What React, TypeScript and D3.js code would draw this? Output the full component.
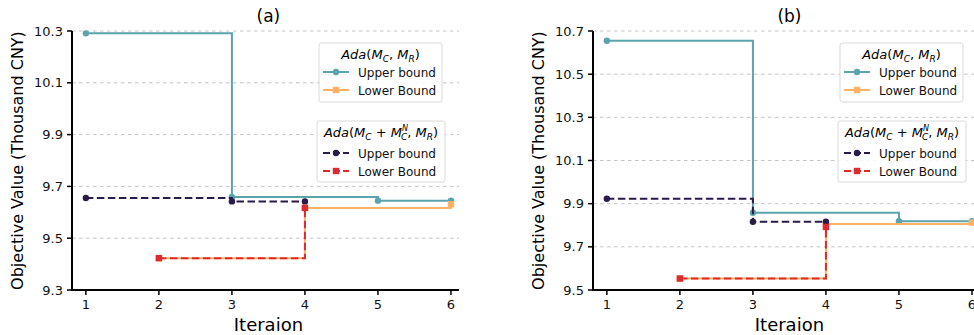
import React from 'react';
import * as d3 from 'd3';

// iterations where each bound was recorded
const iterUpperA = [1, 3, 5, 6];
const iterLowerA = [2, 4, 6];
const iterUpperNA = [1, 3, 4];
const iterLowerNA = [2, 4];

// panel (a) values, thousand CNY
const upperA = [10.291, 9.659, 9.645, 9.645];
const lowerA = [9.423, 9.617, 9.631];
const upperNA = [9.655, 9.642, 9.642];
const lowerNA = [9.423, 9.617];

// panel (b) values
const upperB = [10.655, 9.858, 9.819, 9.819];
const lowerB = [9.553, 9.806, 9.812];
const upperNB = [9.923, 9.816, 9.816];
const lowerNB = [9.553, 9.792];

const xTicks = [1, 2, 3, 4, 5, 6];
const yTicksA = [9.3, 9.5, 9.7, 9.9, 10.1, 10.3];
const yTicksB = [9.5, 9.7, 9.9, 10.1, 10.3, 10.5, 10.7];

const TEAL = '#5ba3ad';
const ORANGE = '#ffb266';
const NAVY = '#2a1b4b';
const RED = '#dc2a2e';
const FONT = 'DejaVu Sans, sans-serif';

type Series = { xs: number[]; ys: number[]; color: string; dashed: boolean; marker: 'circle' | 'square' };

function Marker({ x, y, kind, color }: { x: number; y: number; kind: string; color: string }) {
  if (kind === 'circle') return <circle cx={x} cy={y} r={3.2} fill={color} />;
  return <rect x={x - 3.2} y={y - 3.2} width={6.4} height={6.4} fill={color} />;
}

function LegendTitle({ x, y, withN }: { x: number; y: number; withN: boolean }) {
  return (
    <text x={x} y={y} textAnchor="middle" fontSize={13} fontFamily={FONT}>
      <tspan fontStyle="italic">Ada</tspan>
      <tspan>(</tspan>
      <tspan fontStyle="italic">M</tspan>
      <tspan fontStyle="italic" fontSize={9} dy={3}>C</tspan>
      {withN ? (
        <>
          <tspan dy={-3}> + </tspan>
          <tspan fontStyle="italic">M</tspan>
          <tspan fontStyle="italic" fontSize={8} dy={-6}>N</tspan>
          <tspan fontStyle="italic" fontSize={9} dx={-7} dy={9}>C</tspan>
        </>
      ) : null}
      <tspan dy={withN ? -3 : -3}>, </tspan>
      <tspan fontStyle="italic">M</tspan>
      <tspan fontStyle="italic" fontSize={9} dy={3}>R</tspan>
      <tspan dy={-3}>)</tspan>
    </text>
  );
}

function LegendBox({ x, y, w, h, withN, items }: {
  x: number; y: number; w: number; h: number; withN: boolean;
  items: { label: string; s: Series }[];
}) {
  return (
    <g>
      <rect x={x} y={y} width={w} height={h} rx={2.5} fill="white" fillOpacity={0.85} stroke="#d9d9d9" strokeWidth={1} />
      <LegendTitle x={x + w / 2} y={y + 16} withN={withN} />
      {items.map((it, i) => {
        const cy = y + (withN ? 32 : 29) + i * 18;
        const hx = x + (withN ? 6 : 4);
        return (
          <g key={i}>
            <line x1={hx} x2={hx + 26} y1={cy} y2={cy} stroke={it.s.color} strokeWidth={2}
              strokeDasharray={it.s.dashed ? '7,3' : undefined} />
            <Marker x={hx + 13} y={cy} kind={it.s.marker} color={it.s.color} />
            <text x={hx + 35} y={cy + 4.5} fontSize={12} fontFamily={FONT} fill="#111">{it.label}</text>
          </g>
        );
      })}
    </g>
  );
}

function Panel({ left, title, yDomain, yTicks, series }: {
  left: number; title: string; yDomain: [number, number]; yTicks: number[]; series: Series[];
}) {
  const top = 31;
  const bottom = 290;
  const width = 387;
  const x = d3.scaleLinear().domain([0.81, 6.11]).range([left, left + width]);
  const y = d3.scaleLinear().domain(yDomain).range([bottom, top]);
  const line = d3.line<[number, number]>()
    .x((d) => x(d[0]))
    .y((d) => y(d[1]))
    .curve(d3.curveStepAfter);

  return (
    <g>
      {yTicks.map((t) => (
        <line key={'g' + t} x1={left} x2={left + width} y1={y(t)} y2={y(t)}
          stroke="#c4c4c4" strokeWidth={1} strokeDasharray="3.5,3.5" />
      ))}
      {series.map((s, i) => (
        <g key={i}>
          <path d={line(s.xs.map((v, j) => [v, s.ys[j]] as [number, number])) || ''}
            fill="none" stroke={s.color} strokeWidth={2}
            strokeDasharray={s.dashed ? '7.5,3.5' : undefined} />
          {s.xs.map((v, j) => (
            <Marker key={j} x={x(v)} y={y(s.ys[j])} kind={s.marker} color={s.color} />
          ))}
        </g>
      ))}
      <line x1={left} x2={left} y1={top} y2={bottom} stroke="black" strokeWidth={2} />
      <line x1={left - 1} x2={left + width} y1={bottom} y2={bottom} stroke="black" strokeWidth={2} />
      {yTicks.map((t) => (
        <g key={'y' + t}>
          <line x1={left - 5} x2={left} y1={y(t)} y2={y(t)} stroke="black" strokeWidth={1.5} />
          <text x={left - 9} y={y(t) + 4.5} textAnchor="end" fontSize={13} fontFamily={FONT} fill="#111">
            {t.toFixed(1)}
          </text>
        </g>
      ))}
      {xTicks.map((t) => (
        <g key={'x' + t}>
          <line x1={x(t)} x2={x(t)} y1={bottom} y2={bottom + 5} stroke="black" strokeWidth={1.5} />
          <text x={x(t)} y={bottom + 19} textAnchor="middle" fontSize={13} fontFamily={FONT} fill="#111">{t}</text>
        </g>
      ))}
      <text x={x(3.5)} y={22} textAnchor="middle" fontSize={17} fontFamily={FONT}>{title}</text>
      <text x={x(3.5)} y={331} textAnchor="middle" fontSize={18} fontFamily={FONT}>Iteraion</text>
      <text transform={`translate(${left - 49},${(top + bottom) / 2}) rotate(-90)`} textAnchor="middle"
        fontSize={16} fontFamily={FONT}>Objective Value (Thousand CNY)</text>
      <LegendBox x={left + 247} y={43} w={123} h={59} withN={false}
        items={[{ label: 'Upper bound', s: series[0] }, { label: 'Lower Bound', s: series[1] }]} />
      <LegendBox x={left + 245} y={121} w={128} h={61} withN={true}
        items={[{ label: 'Upper bound', s: series[2] }, { label: 'Lower Bound', s: series[3] }]} />
    </g>
  );
}

export default function App() {
  const seriesA: Series[] = [
    { xs: iterUpperA, ys: upperA, color: TEAL, dashed: false, marker: 'circle' },
    { xs: iterLowerA, ys: lowerA, color: ORANGE, dashed: false, marker: 'square' },
    { xs: iterUpperNA, ys: upperNA, color: NAVY, dashed: true, marker: 'circle' },
    { xs: iterLowerNA, ys: lowerNA, color: RED, dashed: true, marker: 'square' },
  ];
  const seriesB: Series[] = [
    { xs: iterUpperA, ys: upperB, color: TEAL, dashed: false, marker: 'circle' },
    { xs: iterLowerA, ys: lowerB, color: ORANGE, dashed: false, marker: 'square' },
    { xs: iterUpperNA, ys: upperNB, color: NAVY, dashed: true, marker: 'circle' },
    { xs: iterLowerNA, ys: lowerNB, color: RED, dashed: true, marker: 'square' },
  ];
  return (
    <svg width={974} height={335} style={{ position: 'absolute', left: 0, top: 0, background: 'white' }}>
      <Panel left={72} title="(a)" yDomain={[9.3, 10.3]} yTicks={yTicksA} series={seriesA} />
      <Panel left={593} title="(b)" yDomain={[9.5, 10.7]} yTicks={yTicksB} series={seriesB} />
    </svg>
  );
}
